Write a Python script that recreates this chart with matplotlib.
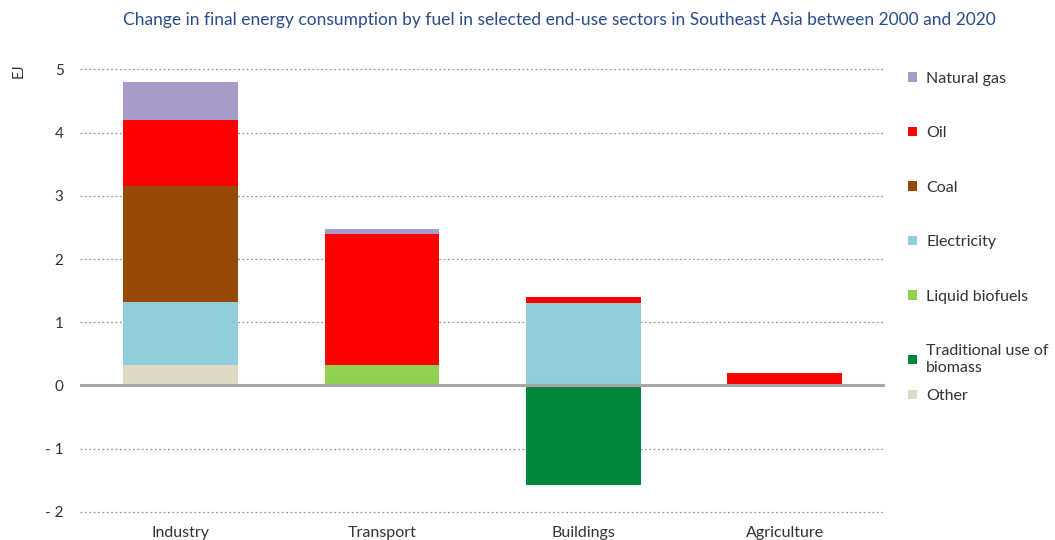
import matplotlib.pyplot as plt
import numpy as np
from matplotlib.patches import Patch

plt.rcParams["font.family"] = ["Lato", "DejaVu Sans"]

sectors = ["Industry", "Transport", "Buildings", "Agriculture"]
fuels = ["Other", "Traditional use of\nbiomass", "Liquid biofuels", "Electricity",
         "Coal", "Oil", "Natural gas"]
colors = ["#DDD9C4", "#00883E", "#92D050", "#92CDDC", "#984807", "#FF0000", "#A89BC9"]

# EJ change per fuel, order follows sectors
other = [0.32, 0.0, 0.0, 0.0]
trad_biomass = [0.0, 0.0, -1.58, 0.0]
liquid_biofuels = [0.0, 0.33, 0.0, 0.0]
electricity = [1.0, 0.0, 1.3, 0.0]
coal = [1.83, 0.0, 0.0, 0.0]
oil = [1.05, 2.07, 0.1, 0.2]
natural_gas = [0.6, 0.08, 0.0, 0.0]

series = [other, trad_biomass, liquid_biofuels, electricity, coal, oil, natural_gas]

fig = plt.figure(figsize=(10.55, 5.4), dpi=100)
ax = fig.add_axes([0.076, 0.0463, 0.763, 0.831])

x = np.arange(len(sectors))
pos_base = np.zeros(len(sectors))
neg_base = np.zeros(len(sectors))
for vals, c in zip(series, colors):
    vals = np.array(vals)
    base = np.where(vals >= 0, pos_base, neg_base)
    ax.bar(x, vals, bottom=base, width=0.57, color=c, zorder=3)
    pos_base += np.clip(vals, 0, None)
    neg_base += np.clip(vals, None, 0)

ax.set_xlim(-0.5, 3.5)
ax.set_ylim(-2.05, 5.05)
ax.set_yticks(range(-2, 6))
ax.set_yticklabels(["- 2", "- 1", "0", "1", "2", "3", "4", "5"])
ax.set_xticks(x)
ax.set_xticklabels(sectors)
ax.tick_params(axis="y", length=0, labelsize=11, colors="#333333", pad=12)
ax.tick_params(axis="x", length=0, labelsize=11.5, colors="#333333", pad=8)
ax.yaxis.grid(True, linestyle=(0, (1.5, 2)), color="#999999", linewidth=0.9, zorder=0)
ax.axhline(0, color="#A6A6A6", linewidth=2.2, zorder=4)
for s in ax.spines.values():
    s.set_visible(False)

fig.text(0.011, 0.87, "EJ", rotation=90, fontsize=10.5, color="#333333", va="center")
fig.suptitle("Change in final energy consumption by fuel in selected end-use sectors "
             "in Southeast Asia between 2000 and 2020",
             x=0.53, y=0.978, fontsize=12.5, color="#2B4C8C")

# legend: main block plus the last entry on its own (the two-line label
# would otherwise push it down)
handles = [Patch(facecolor=c, label=f) for f, c in zip(fuels, colors)][::-1]
leg_kw = dict(frameon=False, fontsize=11.5, handlelength=0.55, handleheight=0.55,
              handletextpad=0.6, labelcolor="#333333")
leg1 = fig.legend(handles=handles[:-1], loc="upper left", bbox_to_anchor=(0.847, 0.894),
                  labelspacing=2.54, **leg_kw)
fig.legend(handles=handles[-1:], loc="center left", bbox_to_anchor=(0.847, 0.2667),
           **leg_kw)

fig.savefig("out.png")
